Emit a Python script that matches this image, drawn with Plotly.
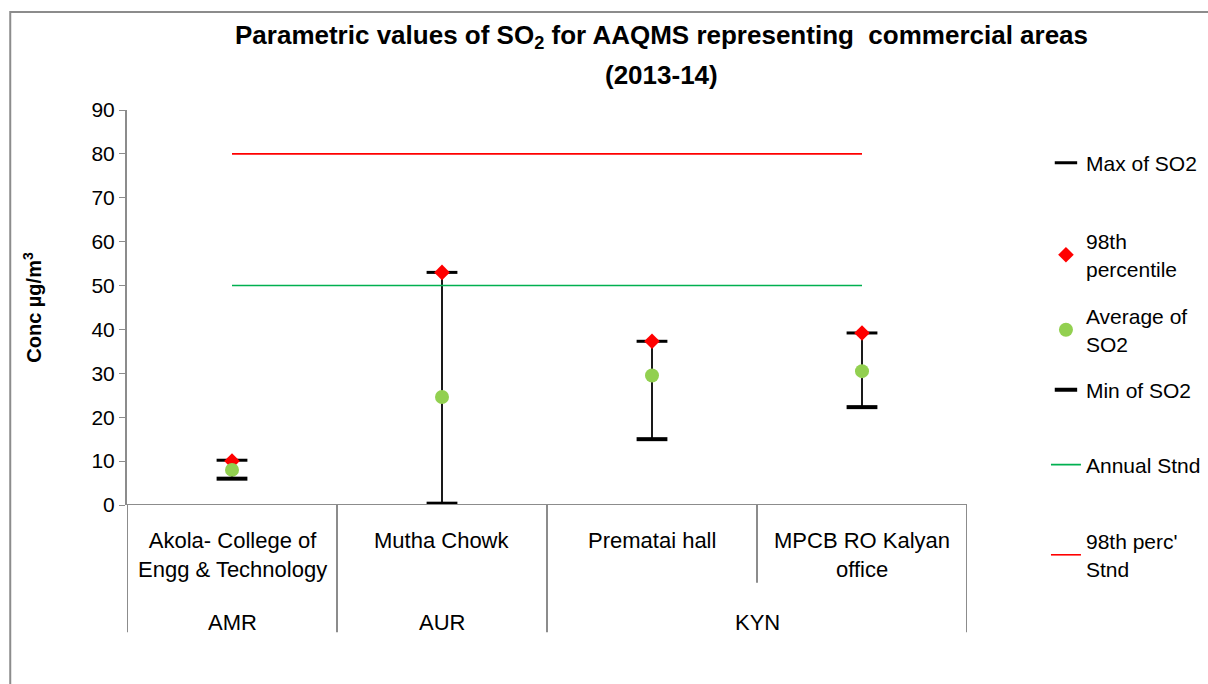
import plotly.graph_objects as go

# ---- data ----
stations = ["Akola- College of<br>Engg & Technology", "Mutha Chowk", "Prematai hall", "MPCB RO Kalyan<br>office"]
regions = ["AMR", "AUR", "KYN"]
region_span = [(0, 0), (1, 1), (2, 3)]
max_so2 = [10.2, 53.0, 37.3, 39.2]
p98_so2 = [10.0, 53.0, 37.3, 39.2]
avg_so2 = [8.0, 24.6, 29.5, 30.5]
min_so2 = [6.0, 0.3, 15.0, 22.3]
annual_std = 50
p98_std = 80
y_ticks = list(range(0, 91, 10))

FONT = "Liberation Sans Narrow, Arial Narrow, Liberation Sans, Arial, sans-serif"
x = list(range(len(stations)))

fig = go.Figure()

# high-low connecting lines
vx, vy = [], []
for i in x:
    vx += [i, i, None]
    vy += [min_so2[i], max_so2[i], None]
fig.add_trace(go.Scatter(x=vx, y=vy, mode="lines", line=dict(color="#1a1a1a", width=2),
                         showlegend=False, hoverinfo="skip"))

fig.add_trace(go.Scatter(x=x, y=max_so2, mode="markers", name="Max of SO2", legend="legend",
                         marker=dict(symbol="line-ew", size=22, color="black",
                                     line=dict(width=3, color="black"))))
fig.add_trace(go.Scatter(x=x, y=p98_so2, mode="markers", name="98th<br>percentile", legend="legend2",
                         marker=dict(symbol="diamond", size=12, color="#FF0000")))
fig.add_trace(go.Scatter(x=x, y=avg_so2, mode="markers", name="Average of<br>SO2", legend="legend3",
                         marker=dict(symbol="circle", size=14, color="#92D050")))
fig.add_trace(go.Scatter(x=x, y=min_so2, mode="markers", name="Min of SO2", legend="legend4",
                         marker=dict(symbol="line-ew", size=22, color="black",
                                     line=dict(width=4, color="black"))))
fig.add_trace(go.Scatter(x=x, y=[annual_std] * len(x), mode="lines", name="Annual Stnd", legend="legend5",
                         line=dict(color="#00B050", width=1.6)))
fig.add_trace(go.Scatter(x=x, y=[p98_std] * len(x), mode="lines", name="98th perc'<br>Stnd", legend="legend6",
                         line=dict(color="#FF0000", width=1.6)))

# category labels and dividers
annotations = []
shapes = []
for i, s in enumerate(stations):
    annotations.append(dict(x=i, y=-0.052, xref="x", yref="paper", text=s, showarrow=False,
                            yanchor="top", font=dict(size=22, color="black", family=FONT)))
for r, (a, b) in zip(regions, region_span):
    annotations.append(dict(x=(a + b) / 2, y=-0.262, xref="x", yref="paper", text=r, showarrow=False,
                            yanchor="top", font=dict(size=22, color="black", family=FONT)))
# title (two lines)
annotations.append(dict(x=0.636, y=1.185, xref="paper", yref="paper", showarrow=False,
                        yanchor="middle", xanchor="center",
                        text="<b>Parametric values of SO<sub>2</sub> for AAQMS representing  commercial areas</b>",
                        font=dict(size=26, family=FONT, color="black")))
annotations.append(dict(x=0.636, y=1.089, xref="paper", yref="paper", showarrow=False,
                        yanchor="middle", xanchor="center", text="<b>(2013-14)</b>",
                        font=dict(size=26, family=FONT, color="black")))

inner_bounds = set()
outer_bounds = set()
for a, b in region_span:
    outer_bounds.add(a - 0.5)
    outer_bounds.add(b + 0.5)
for i in x:
    inner_bounds.add(i - 0.5)
    inner_bounds.add(i + 0.5)
for xb in sorted(inner_bounds | outer_bounds):
    y0 = -0.322 if xb in outer_bounds else -0.197
    shapes.append(dict(type="line", xref="x", yref="paper", x0=xb, x1=xb, y0=0, y1=y0,
                       line=dict(color="#8c8c8c", width=2)))
# outer chart border
shapes.append(dict(type="rect", xref="paper", yref="paper", x0=-0.139, x1=1.3, y0=-0.47, y1=1.248,
                   line=dict(color="#8c8c8c", width=2)))

def leg(yc):
    return dict(x=1.094, xanchor="left", y=yc, yanchor="middle",
                font=dict(size=21, family=FONT, color="black"), bgcolor="rgba(0,0,0,0)")

leg_centers_px = [163, 255, 330, 390, 465, 555]
leg_y = [(505 - p) / 395 for p in leg_centers_px]

fig.update_layout(
    width=1208, height=684,
    margin=dict(l=127, r=241, t=110, b=179, autoexpand=False),
    paper_bgcolor="white", plot_bgcolor="white",
    font=dict(family=FONT, size=21, color="black"),
    xaxis=dict(range=[-0.5, 3.5], showticklabels=False, ticks="", showgrid=False, zeroline=False,
               showline=False),
    yaxis=dict(range=[0, 90], tickvals=y_ticks, ticks="outside", ticklen=6, tickcolor="#8c8c8c",
               showgrid=False, zeroline=False, showline=True, linecolor="#8c8c8c", linewidth=2,
               tickfont=dict(size=21, family=FONT),
               title=dict(text="<b>Conc µg/m<sup>3</sup></b>", font=dict(size=20, family=FONT), standoff=44)),
    legend=leg(leg_y[0]), legend2=leg(leg_y[1]), legend3=leg(leg_y[2]),
    legend4=leg(leg_y[3]), legend5=leg(leg_y[4]), legend6=leg(leg_y[5]),
    annotations=annotations, shapes=shapes,
)
# x-axis baseline
fig.add_shape(type="line", xref="paper", yref="y", x0=0, x1=1, y0=0, y1=0,
              line=dict(color="#8c8c8c", width=2))

fig.write_html("out.html", config={"displayModeBar": False},
               post_script="document.body.style.margin='0';")
